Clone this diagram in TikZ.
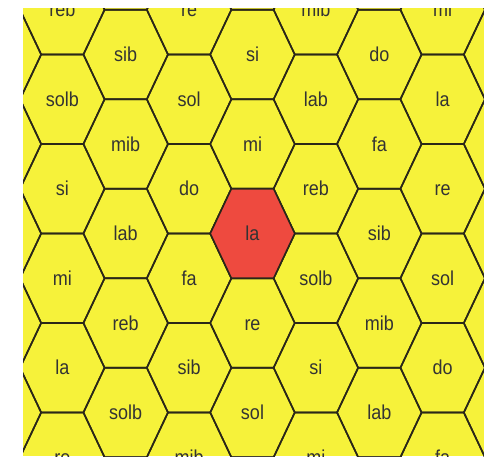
\documentclass[tikz,border=0pt]{standalone}
\usepackage{graphicx}
\usepackage{fontspec}
\setmainfont{Liberation Sans}
\definecolor{hexyellow}{HTML}{F6F23A}
\definecolor{hexred}{HTML}{EE4A3F}
\definecolor{hexedge}{HTML}{2A2718}
\definecolor{hextext}{HTML}{333333}
\begin{document}
\begin{tikzpicture}[x=1pt,y=-1pt,
  hexline/.style={draw=hexedge,line width=1.6pt,line join=round},
  lbl/.style={text=hextext,font=\fontsize{18}{18}\selectfont,inner sep=0pt,
    text height=14.3pt,text depth=0pt,anchor=center}]
\useasboundingbox (0,0) rectangle (484,456);
\begin{scope}
\clip (23,8) rectangle (484,456);
\fill[hexyellow] (23,8) rectangle (484,456);
\foreach \c in {-4,...,4} {
  \foreach \k in {-7,...,7} {
    \pgfmathtruncatemacro\pp{mod(\c+\k+100,2)}
    \ifnum\pp=0
      \pgfmathsetmacro\cx{252.5+63.4*\c}
      \pgfmathsetmacro\cy{233.5+44.75*\k}
      \draw[hexline] (\cx-42.27,\cy) -- (\cx-21.13,\cy-44.75) -- (\cx+21.13,\cy-44.75)
        -- (\cx+42.27,\cy) -- (\cx+21.13,\cy+44.75) -- (\cx-21.13,\cy+44.75) -- cycle;
    \fi
  }
}
\draw[hexline,fill=hexred] (252.5-42.27,233.5) -- (252.5-21.13,233.5-44.75) -- (252.5+21.13,233.5-44.75)
  -- (252.5+42.27,233.5) -- (252.5+21.13,233.5+44.75) -- (252.5-21.13,233.5+44.75) -- cycle;
\foreach \c/\k/\t in {
  -3/-5/reb, -3/-3/solb, -3/-1/si, -3/1/mi, -3/3/la, -3/5/re,
  -2/-4/sib, -2/-2/mib, -2/0/lab, -2/2/reb, -2/4/solb,
  -1/-5/re, -1/-3/sol, -1/-1/do, -1/1/fa, -1/3/sib, -1/5/mib,
  0/-4/si, 0/-2/mi, 0/0/la, 0/2/re, 0/4/sol,
  1/-5/mib, 1/-3/lab, 1/-1/reb, 1/1/solb, 1/3/si, 1/5/mi,
  2/-4/do, 2/-2/fa, 2/0/sib, 2/2/mib, 2/4/lab,
  3/-5/mi, 3/-3/la, 3/-1/re, 3/1/sol, 3/3/do, 3/5/fa} {
  \pgfmathsetmacro\cx{252.5+63.4*\c}
  \pgfmathsetmacro\cy{233.5+44.75*\k}
  \node[lbl] (n\c\k) at (\cx,\cy) {\scalebox{1}[1.12]{\t}};
}
\end{scope}
\end{tikzpicture}
\end{document}
